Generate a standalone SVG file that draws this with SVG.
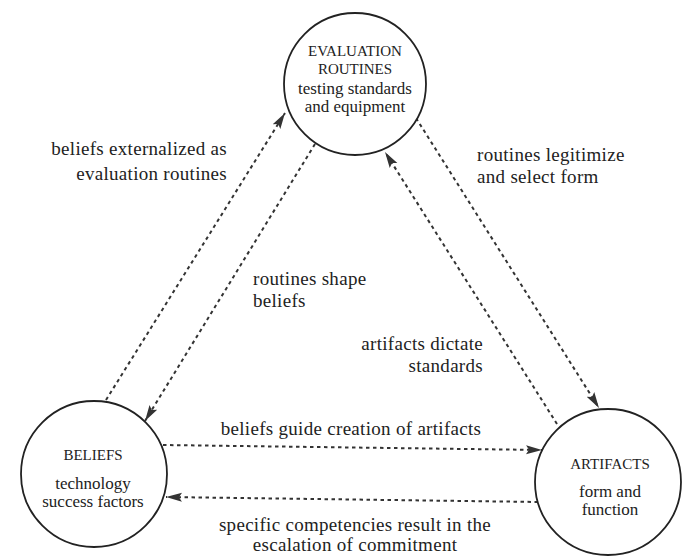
<svg xmlns="http://www.w3.org/2000/svg" width="682" height="559" viewBox="0 0 682 559">
<style>
.node{fill:#fff;stroke:#222;stroke-width:1.8}
.cap{font-family:"Liberation Serif",serif;font-size:15px;fill:#222;text-anchor:middle}
.sub{font-family:"Liberation Serif",serif;font-size:17px;fill:#222;text-anchor:middle}
.lbl{font-family:"Liberation Serif",serif;font-size:19px;fill:#222;letter-spacing:0.3px}
.edge{fill:none;stroke:#333;stroke-width:2;stroke-dasharray:3.5 3.5}
</style>
<defs>
<marker id="ah" markerUnits="userSpaceOnUse" markerWidth="17" markerHeight="11" refX="16" refY="5.5" orient="auto">
<path d="M0,1 L16,5.5 L0,10 L3,5.5 z" fill="#333"/>
</marker>
</defs>
<rect width="682" height="559" fill="#fff"/>
<g id="connectors">
<line class="edge" x1="106" y1="400" x2="285" y2="113" marker-end="url(#ah)"/>
<line class="edge" x1="315" y1="144" x2="145" y2="421" marker-end="url(#ah)"/>
<line class="edge" x1="557" y1="424" x2="385" y2="152" marker-end="url(#ah)"/>
<line class="edge" x1="416" y1="118" x2="599" y2="408" marker-end="url(#ah)"/>
<line class="edge" x1="163" y1="445" x2="542" y2="450" marker-end="url(#ah)"/>
<line class="edge" x1="538" y1="502" x2="166" y2="497" marker-end="url(#ah)"/>
</g>
<g id="evaluation">
<circle class="node" cx="355" cy="84" r="71"/>
<text class="cap" x="355" y="56">EVALUATION</text>
<text class="cap" x="355" y="74">ROUTINES</text>
<text class="sub" x="355" y="94">testing standards</text>
<text class="sub" x="355" y="112">and equipment</text>
</g>
<g id="beliefs">
<circle class="node" cx="94" cy="474" r="73"/>
<text class="cap" x="93" y="460">BELIEFS</text>
<text class="sub" x="93" y="489">technology</text>
<text class="sub" x="93" y="507">success factors</text>
</g>
<g id="artifacts">
<circle class="node" cx="608" cy="482" r="73"/>
<text class="cap" x="610" y="469">ARTIFACTS</text>
<text class="sub" x="610" y="497">form and</text>
<text class="sub" x="610" y="515">function</text>
</g>
<g id="labels">
<text class="lbl" x="227" y="155" text-anchor="end">beliefs externalized as</text>
<text class="lbl" x="227" y="180" text-anchor="end">evaluation routines</text>
<text class="lbl" x="477" y="161">routines legitimize</text>
<text class="lbl" x="477" y="183">and select form</text>
<text class="lbl" x="253" y="285">routines shape</text>
<text class="lbl" x="253" y="307">beliefs</text>
<text class="lbl" x="483" y="350" text-anchor="end">artifacts dictate</text>
<text class="lbl" x="483" y="372" text-anchor="end">standards</text>
<text class="lbl" x="351" y="435" text-anchor="middle">beliefs guide creation of artifacts</text>
<text class="lbl" x="355" y="531" text-anchor="middle">specific competencies result in the</text>
<text class="lbl" x="355" y="551" text-anchor="middle">escalation of commitment</text>
</g>
</svg>
